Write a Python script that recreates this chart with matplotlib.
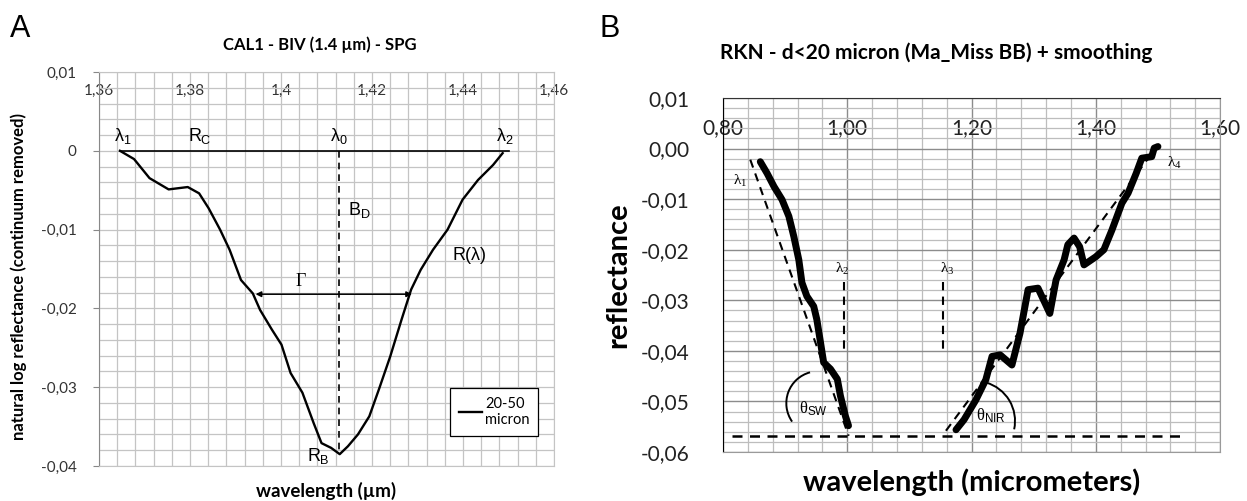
import matplotlib
matplotlib.use("Agg")
import matplotlib.pyplot as plt
from matplotlib.patches import Arc
from matplotlib.transforms import ScaledTranslation
from matplotlib.ticker import MultipleLocator, FixedLocator

plt.rcParams['font.family'] = ['Lato', 'DejaVu Sans']
plt.rcParams['mathtext.fontset'] = 'custom'
plt.rcParams['mathtext.rm'] = 'Liberation Sans'
plt.rcParams['mathtext.it'] = 'Liberation Sans'
plt.rcParams['mathtext.sf'] = 'Liberation Serif'

# --- panel A: band at 1.4 um ---
a_wl = [1.3646, 1.3677, 1.3711, 1.3753, 1.3795, 1.3820, 1.3841, 1.3866, 1.3887,
        1.3912, 1.3938, 1.3954, 1.3980, 1.4001, 1.4021, 1.4047, 1.4072, 1.4089,
        1.4110, 1.4129, 1.4147, 1.4169, 1.4194, 1.4215, 1.4240, 1.4265, 1.4286,
        1.4307, 1.4334, 1.4366, 1.4399, 1.4433, 1.4466, 1.4487]
a_refl = [0.0, -0.00105, -0.00347, -0.0049, -0.0046, -0.0054, -0.0073, -0.0100,
          -0.01256, -0.0164, -0.0181, -0.0202, -0.0227, -0.0246, -0.0282, -0.0307,
          -0.0346, -0.0371, -0.0377, -0.0385, -0.0375, -0.0360, -0.0337, -0.0303,
          -0.0261, -0.0214, -0.0176, -0.0151, -0.01256, -0.0100, -0.0062, -0.0037,
          -0.0018, -0.0003]
a_cont_x = [1.3646, 1.4501]
a_cont_y = [0.0, 0.0]
a_lam0 = 1.4128
a_rb = -0.0385
a_fwhm_x = [1.3944, 1.4288]
a_fwhm_y = -0.0182
a_xticks = [1.36, 1.38, 1.40, 1.42, 1.44, 1.46]
a_xticklabels = ['1,36', '1,38', '1,4', '1,42', '1,44', '1,46']
a_yticks = [0.01, 0.0, -0.01, -0.02, -0.03, -0.04]
a_yticklabels = ['0,01', '0', '-0,01', '-0,02', '-0,03', '-0,04']

# --- panel B: smoothed spectrum ---
b_sw_x = [0.860, 0.871, 0.882, 0.895, 0.906, 0.914, 0.922, 0.927, 0.935, 0.946,
          0.951, 0.957, 0.962, 0.973, 0.984, 0.989, 0.997, 1.002]
b_sw_y = [-0.0026, -0.0049, -0.0075, -0.0101, -0.0134, -0.0174, -0.0220, -0.0265,
          -0.0292, -0.0312, -0.0338, -0.0384, -0.0423, -0.0436, -0.0456, -0.0489,
          -0.0529, -0.0548]
b_nir_x = [1.175, 1.188, 1.207, 1.223, 1.233, 1.246, 1.265, 1.278, 1.291, 1.307,
           1.326, 1.336, 1.349, 1.355, 1.365, 1.374, 1.381, 1.400, 1.413, 1.426,
           1.442, 1.452, 1.465, 1.474, 1.490, 1.494, 1.500]
b_nir_y = [-0.0556, -0.0536, -0.0497, -0.0457, -0.0411, -0.0408, -0.0428, -0.0365,
           -0.0279, -0.0276, -0.0326, -0.0260, -0.0220, -0.0190, -0.0177, -0.0194,
           -0.0230, -0.0214, -0.0200, -0.0161, -0.0108, -0.0088, -0.0049, -0.0019,
           -0.0016, 0.0001, 0.0004]
b_tan_sw_x = [0.8439, 1.0022]
b_tan_sw_y = [-0.0022, -0.0568]
b_tan_nir_x = [1.1588, 1.4905]
b_tan_nir_y = [-0.0558, -0.0009]
b_base_x = [0.8145, 1.5389]
b_base_y = -0.0568
b_lam2 = 0.9952
b_lam3 = 1.1541
b_lam_y = [-0.0264, -0.0407]
b_xticks = [0.8, 1.0, 1.2, 1.4, 1.6]
b_xticklabels = ['0,80', '1,00', '1,20', '1,40', '1,60']
b_yticks = [0.01, 0.0, -0.01, -0.02, -0.03, -0.04, -0.05, -0.06]
b_yticklabels = ['0,01', '0,00', '-0,01', '-0,02', '-0,03', '-0,04', '-0,05', '-0,06']

fig = plt.figure(figsize=(12.47, 5.01), dpi=100)

# ---------------- A ----------------
ax = fig.add_axes([0.0794, 0.0699, 0.3649, 0.7864])
ax.set_xlim(1.36, 1.46)
ax.set_ylim(-0.04, 0.01)
ax.xaxis.set_major_locator(FixedLocator(a_xticks))
ax.xaxis.set_minor_locator(MultipleLocator(0.004))
ax.yaxis.set_major_locator(FixedLocator(a_yticks))
ax.yaxis.set_minor_locator(MultipleLocator(0.002))
ax.set_xticklabels(a_xticklabels)
ax.set_yticklabels(a_yticklabels)
ax.grid(which='both', color='#c4c4c4', lw=0.9)
ax.set_axisbelow(True)
ax.xaxis.tick_top()
ax.tick_params(axis='x', which='both', length=0, pad=-19, labelsize=11, colors='#333333')
ax.tick_params(axis='y', which='major', length=4, pad=12, labelsize=11, colors='#333333', color='#888888')
ax.tick_params(axis='y', which='minor', length=0)
for s in ['top', 'right', 'bottom']:
    ax.spines[s].set_color('#c4c4c4')
ax.spines['left'].set_color('#888888')

ax.plot(a_wl, a_refl, color='black', lw=1.7, label='20-50\nmicron')
ax.plot(a_cont_x, a_cont_y, color='black', lw=1.2)
ax.plot([a_lam0, a_lam0], [0, a_rb], color='black', lw=1.2, dashes=(4, 3))
ax.annotate('', xy=(a_fwhm_x[1], a_fwhm_y), xytext=(a_fwhm_x[0], a_fwhm_y),
            arrowprops=dict(arrowstyle='<|-|>', lw=1.1, color='black',
                            shrinkA=0, shrinkB=0, mutation_scale=8))

fs = 13
ax.text(1.3652, 0.0019, r'$\lambda_1$', fontsize=fs, ha='center', va='center')
ax.text(1.3822, 0.0019, r'$R_C$', fontsize=fs, ha='center', va='center')
ax.text(1.4127, 0.0019, r'$\lambda_0$', fontsize=fs, ha='center', va='center')
ax.text(1.4492, 0.0019, r'$\lambda_2$', fontsize=fs, ha='center', va='center')
ax.text(1.4172, -0.0075, r'$B_D$', fontsize=fs, ha='center', va='center')
ax.text(1.4415, -0.0133, r'$R(\lambda)$', fontsize=fs, ha='center', va='center')
ax.text(1.4043, -0.0164, r'$\mathsf{\Gamma}$', fontsize=fs, ha='center', va='center')
ax.text(1.4081, -0.0387, r'$R_B$', fontsize=fs, ha='center', va='center')

leg = ax.legend(loc='lower right', bbox_to_anchor=(0.981, 0.058), fontsize=10.5,
                fancybox=False, framealpha=1, edgecolor='black',
                handlelength=1.6, handletextpad=0.2, borderpad=0.6)
leg.get_frame().set_linewidth(0.9)

ax.text(0.486, 1.0685, 'CAL1 - BIV (1.4 \u00b5m) - SPG', transform=ax.transAxes,
        ha='center', va='center', fontsize=12, fontweight='bold')
ax.set_xlabel('wavelength (\u00b5m)', fontsize=13.5, fontweight='bold')
ax.xaxis.set_label_coords(0.5, -0.04)
ax.set_ylabel('natural log reflectance (continuum removed)', fontsize=12, fontweight='bold')
ax.yaxis.set_label_coords(-0.158, 0.482)

# ---------------- B ----------------
bx = fig.add_axes([0.5798, 0.0978, 0.3986, 0.7066])
bx.set_xlim(0.8, 1.6)
bx.set_ylim(-0.06, 0.01)
bx.xaxis.set_major_locator(FixedLocator(b_xticks))
bx.xaxis.set_minor_locator(MultipleLocator(0.04))
bx.yaxis.set_major_locator(FixedLocator(b_yticks))
bx.yaxis.set_minor_locator(MultipleLocator(0.002))
bx.set_xticklabels(b_xticklabels)
bx.set_yticklabels(b_yticklabels)
bx.grid(which='minor', color='#bdbdbd', lw=0.9)
bx.grid(which='major', color='#8c8c8c', lw=1.0)
bx.set_axisbelow(True)
bx.xaxis.tick_top()
bx.tick_params(axis='x', which='both', length=0, pad=-29, labelsize=15, colors='#222222')
bx.tick_params(axis='y', which='both', length=0, pad=24, labelsize=15, colors='#222222')
bx.spines['left'].set_color('black')
bx.spines['top'].set_color('#333333')
bx.spines['right'].set_color('#9a9a9a')
bx.spines['bottom'].set_color('#9a9a9a')

bx.plot(b_sw_x, b_sw_y, color='black', lw=5, solid_capstyle='round', solid_joinstyle='round')
bx.plot(b_nir_x, b_nir_y, color='black', lw=5, solid_capstyle='round', solid_joinstyle='round')
dash = dict(color='black', lw=1.5, dashes=(4, 3))
bx.plot(b_tan_sw_x, b_tan_sw_y, **dash)
bx.plot(b_tan_nir_x, b_tan_nir_y, **dash)
bx.plot(b_base_x, [b_base_y, b_base_y], color='black', lw=1.8, dashes=(4, 3))
bx.plot([b_lam2, b_lam2], b_lam_y, **dash)
bx.plot([b_lam3, b_lam3], b_lam_y, **dash)

# angle arcs, sized in inches so they stay circular
for cx, cy, diam, t1, t2 in [(0.9534, -0.05036, 0.64, 105, 215),
                             (1.2056, -0.05387, 0.80, -12, 74)]:
    tr = fig.dpi_scale_trans + ScaledTranslation(cx, cy, bx.transData)
    bx.add_patch(Arc((0, 0), diam, diam, theta1=t1, theta2=t2, transform=tr,
                     color='black', lw=1.4))

fb = 11
bx.text(0.8278, -0.0065, r'$\mathsf{\lambda_1}$', fontsize=fb, ha='center', va='center')
bx.text(0.9915, -0.0239, r'$\mathsf{\lambda_2}$', fontsize=fb, ha='center', va='center')
bx.text(1.1605, -0.0239, r'$\mathsf{\lambda_3}$', fontsize=fb, ha='center', va='center')
bx.text(1.526, -0.0029, r'$\mathsf{\lambda_4}$', fontsize=fb, ha='center', va='center')
bx.text(0.9458, -0.0515, r'$\mathsf{\theta}_{\mathrm{SW}}$', fontsize=12, ha='center', va='center')
bx.text(1.2318, -0.0528, r'$\mathsf{\theta}_{\mathrm{NIR}}$', fontsize=12, ha='center', va='center')

bx.text(0.4286, 1.127, 'RKN - d<20 micron (Ma_Miss BB) + smoothing', transform=bx.transAxes,
        ha='center', va='center', fontsize=15, fontweight='bold')
bx.set_xlabel('wavelength (micrometers)', fontsize=21, fontweight='bold')
bx.xaxis.set_label_coords(0.5, -0.045)
bx.set_ylabel('reflectance', fontsize=21, fontweight='bold')
bx.yaxis.set_label_coords(-0.185, 0.5)

fig.text(0.008, 0.926, 'A', fontsize=22, family='Liberation Sans', va='baseline')
fig.text(0.481, 0.926, 'B', fontsize=22, family='Liberation Sans', va='baseline')

plt.savefig('out.png', dpi=100)
